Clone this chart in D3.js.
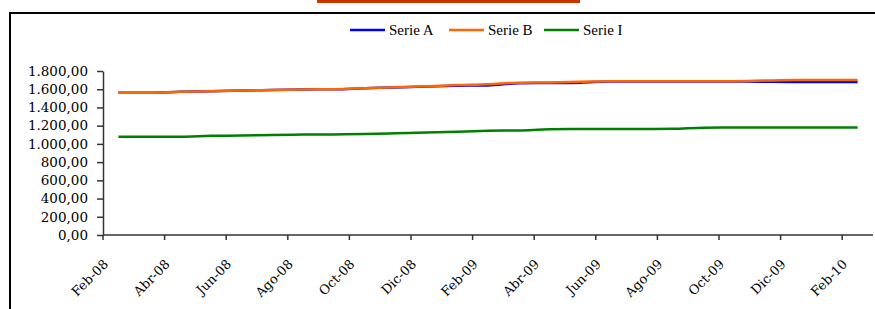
<!DOCTYPE HTML>
<html>
<head>
  <style>
    body { margin: 0px; padding: 0px; background: #fff; }
  </style>
</head>
<body>
  <div id="chart"></div>
  <script src="https://d3js.org/d3.v7.min.js"></script>
  <script>
    // months Feb-08 .. Feb-10
    var months = ['Feb-08','Mar-08','Abr-08','May-08','Jun-08','Jul-08','Ago-08','Sep-08','Oct-08','Nov-08','Dic-08','Ene-09',
                  'Feb-09','Mar-09','Abr-09','May-09','Jun-09','Jul-09','Ago-09','Sep-09','Oct-09','Nov-09','Dic-09','Ene-10','Feb-10'];
    var serieA = [1562,1562,1572,1577,1585,1592,1598,1600,1610,1620,1630,1638,1642,1665,1668,1672,1685,1685,1685,1685,1685,1683,1680,1680,1680];
    var serieB = [1562,1562,1572,1577,1585,1592,1598,1600,1610,1622,1632,1645,1655,1672,1675,1682,1688,1688,1688,1688,1688,1695,1700,1700,1700];
    var serieI = [1078,1078,1078,1088,1092,1098,1102,1104,1108,1116,1124,1134,1144,1148,1160,1163,1163,1163,1165,1178,1180,1180,1180,1180,1180];
    var yTicks = [0,200,400,600,800,1000,1200,1400,1600,1800];
    var seriesNames = ['Serie A','Serie B','Serie I'];
    var colors = ['#0000ff','#ff6600','#008000'];

    var width = 875, height = 309;
    var svg = d3.select('#chart').append('svg').attr('width', width).attr('height', height);

    // header bar + frame
    svg.append('rect').attr('x', 317).attr('y', 0).attr('width', 263).attr('height', 3).style('fill', '#cc3300');
    svg.append('rect').attr('x', 10).attr('y', 13).attr('width', 900).attr('height', 320)
      .style('fill', 'none').style('stroke', '#000').style('stroke-width', 2);

    var x = d3.scaleBand().domain(months).range([103, 873]).paddingInner(0).paddingOuter(0);
    var y = d3.scaleLinear().domain([0, 1800]).range([235, 71]);
    var fmt = function(d) {
      return d3.format(',.2f')(d).replace(/,/g, '#').replace('.', ',').replace(/#/g, '.');
    };

    // y axis
    var yAxis = svg.append('g').attr('transform', 'translate(103,0)')
      .call(d3.axisLeft(y).tickValues(yTicks).tickFormat(fmt).tickSize(6).tickPadding(9).tickSizeOuter(0));
    yAxis.selectAll('text').style('font-family', 'DejaVu Serif').style('font-size', '13.5px').style('fill', '#000');

    // x axis: ticks at every second category boundary
    var xAxis = svg.append('g').attr('transform', 'translate(0,235)');
    xAxis.append('line').attr('x1', 103).attr('x2', 873).attr('y1', 0).attr('y2', 0);
    var shown = months.filter(function(d, i) { return i % 2 == 0; });
    xAxis.selectAll('line.tk').data(shown).enter().append('line').attr('class', 'tk')
      .attr('x1', function(d) { return x(d); }).attr('x2', function(d) { return x(d); })
      .attr('y1', 0).attr('y2', 5);
    xAxis.selectAll('text').data(shown).enter().append('text')
      .attr('transform', function(d) { return 'translate(' + (x(d) + 6) + ',30) rotate(-45)'; })
      .attr('text-anchor', 'end')
      .style('font-family', 'DejaVu Serif').style('font-size', '13px')
      .text(function(d) { return d; });
    svg.selectAll('.domain, .tick line, g line').style('stroke', '#333').style('stroke-width', 1.5);

    // lines: A, then I, then B on top
    var line = d3.line()
      .x(function(d, i) { return x(months[i]) + x.bandwidth() / 2; })
      .y(function(d) { return y(d); })
      .curve(d3.curveMonotoneX);
    [[serieA, 0], [serieI, 2], [serieB, 1]].forEach(function(s) {
      svg.append('path').attr('d', line(s[0])).style('fill', 'none')
        .style('stroke', colors[s[1]]).style('stroke-width', 2.5);
    });

    // legend
    var legX = [350, 449, 544];
    var leg = svg.selectAll('g.leg').data(seriesNames).enter().append('g').attr('class', 'leg')
      .attr('transform', function(d, i) { return 'translate(' + legX[i] + ',30)'; });
    leg.append('line').attr('x1', 0).attr('x2', 35).attr('y1', 0).attr('y2', 0)
      .style('stroke', function(d, i) { return colors[i]; }).style('stroke-width', 2.5);
    leg.append('text').attr('x', 39).attr('y', 5)
      .style('font-family', 'Liberation Serif').style('font-size', '15px')
      .text(function(d) { return d; });
  </script>
</body>
</html>
